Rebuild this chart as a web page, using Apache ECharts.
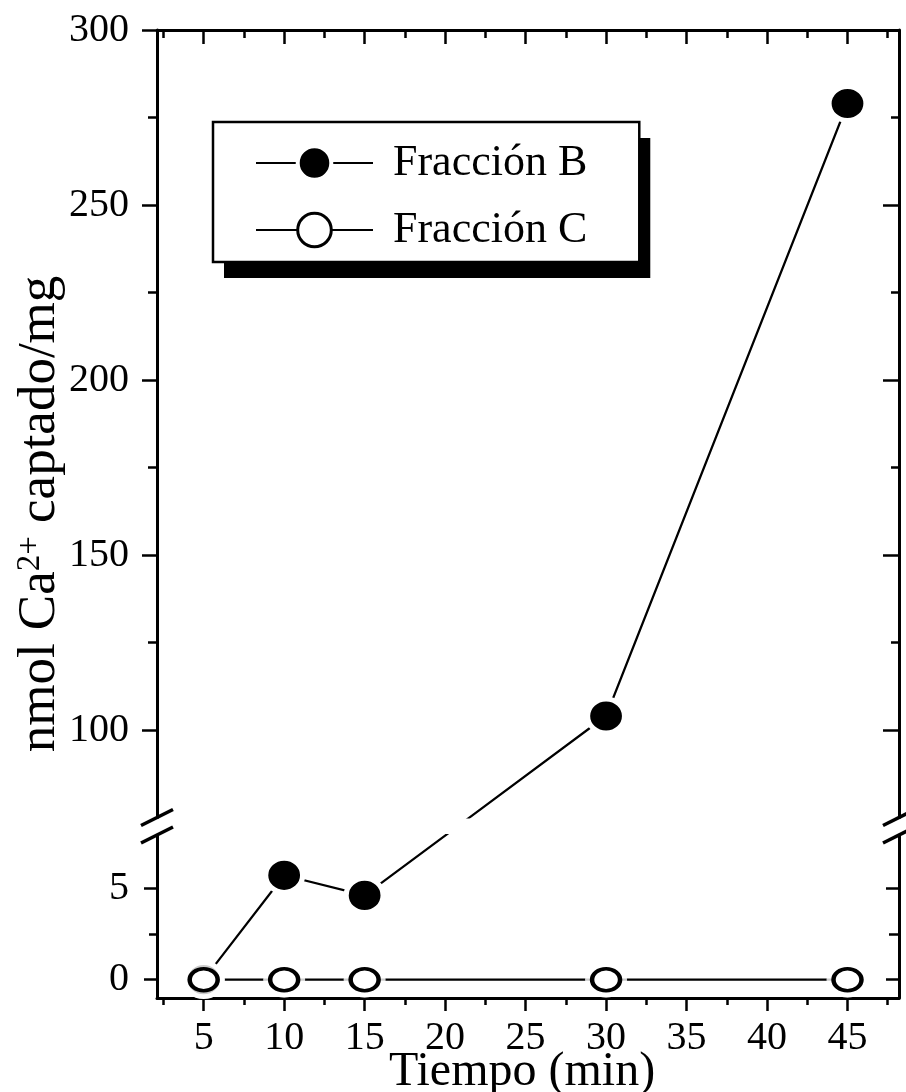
<!DOCTYPE html>
<html>
<head>
<meta charset="utf-8">
<script src="https://cdn.jsdelivr.net/npm/echarts@6/dist/echarts.min.js"></script>
<style>
  html, body { margin: 0; padding: 0; background: #fff; }
  #chart { width: 906px; height: 1092px; }
</style>
</head>
<body>
<div id="chart"></div>
<script>
// Ca2+ uptake over time for two membrane fractions
const tiempo = [5, 10, 15, 30, 45];
const fraccionB = [0, 5.7, 4.6, 104, 279];
const fraccionC = [0, 0, 0, 0, 0];

// tick positions
const xTicksMajor = [5, 10, 15, 20, 25, 30, 35, 40, 45];
const xTicksMinor = [2.5, 7.5, 12.5, 17.5, 22.5, 27.5, 32.5, 37.5, 42.5, 47.5];
const yUpperMajor = [100, 150, 200, 250, 300];
const yUpperMinor = [125, 175, 225, 275];
const yLowerMajor = [0, 5];
const yLowerMinor = [2.5];

// axis ranges (broken y axis)
const X_MIN = 2.1, X_MAX = 48.2;
const UP_MIN = 75, UP_MAX = 300;
const LOW_MIN = -1, LOW_MAX = 7.9;

// layout
const GRID_LEFT = 157, GRID_RIGHT = 7;
const UP_TOP = 30, UP_BOTTOM = 817.5;
const LOW_TOP = 835, LOW_BOTTOM = 998;
const W = 906;

const FONT = "'Liberation Serif', 'Times New Roman', serif";
const INK = '#000';

function xAxis(grid, position, ticks, len, opts) {
  return Object.assign({
    type: 'value', gridIndex: grid, position: position, min: X_MIN, max: X_MAX,
    axisLine: { show: false, onZero: false },
    axisTick: { show: true, inside: position === 'top', length: len, customValues: ticks,
                lineStyle: { color: INK, width: 2.5 } },
    axisLabel: { show: false },
    splitLine: { show: false }
  }, opts || {});
}
function yAxis(grid, position, min, max, ticks, len, opts) {
  return Object.assign({
    type: 'value', gridIndex: grid, position: position, min: min, max: max,
    axisLine: { show: false, onZero: false },
    axisTick: { show: true, inside: position === 'right', length: len, customValues: ticks,
                lineStyle: { color: INK, width: 2.5 } },
    axisLabel: { show: false },
    splitLine: { show: false }
  }, opts || {});
}
const axisLineOn = { show: true, onZero: false, lineStyle: { color: INK, width: 3 } };
const yLabel = (vals) => ({ show: true, customValues: vals, margin: 28, color: INK,
                            fontFamily: FONT, fontSize: 40 });

const pts = (xs, ys, idx) => idx.map(i => [xs[i], ys[i]]);
const allIdx = tiempo.map((_, i) => i);
const lowIdx = allIdx.filter(i => fraccionB[i] <= LOW_MAX);
const upIdx = allIdx.filter(i => fraccionB[i] >= UP_MIN);

const bItem = { color: INK, borderColor: '#fff', borderWidth: 5 };
const bLine = { color: INK, width: 2.2 };

// legend box settings shared by the framed legend and its drop shadow
const legendBase = {
  orient: 'vertical',
  left: 213, top: 122,
  padding: [19, 52, 10, 42],
  itemWidth: 117, itemHeight: 42, itemGap: 23,
  backgroundColor: '#fff',
  selectedMode: false,
  textStyle: { color: INK, fontFamily: FONT, fontSize: 44, lineHeight: 42, padding: [0, 0, 0, 15] },
  data: [
    { name: 'Fracción B', itemStyle: { borderWidth: 4 } },
    { name: 'Fracción C', itemStyle: { borderWidth: 3 } }
  ]
};

const option = {
  animation: false,
  backgroundColor: '#fff',
  grid: [
    { left: GRID_LEFT, right: GRID_RIGHT, top: UP_TOP, height: UP_BOTTOM - UP_TOP,
      outerBoundsMode: 'none', containLabel: false },
    { left: GRID_LEFT, right: GRID_RIGHT, top: LOW_TOP, height: LOW_BOTTOM - LOW_TOP,
      outerBoundsMode: 'none', containLabel: false }
  ],
  xAxis: [
    xAxis(0, 'top', xTicksMajor, 14, { axisLine: axisLineOn }),
    xAxis(0, 'top', xTicksMinor, 8),
    xAxis(1, 'bottom', xTicksMajor, 13, {
      axisLine: axisLineOn,
      axisLabel: { show: true, customValues: xTicksMajor, margin: 20, color: INK,
                   fontFamily: FONT, fontSize: 40 },
      name: 'Tiempo (min)', nameLocation: 'middle', nameGap: 50, nameMoveOverlap: false,
      nameTextStyle: { color: INK, fontFamily: FONT, fontSize: 48, padding: [0, 12, 0, 0] }
    }),
    xAxis(1, 'bottom', xTicksMinor, 7)
  ],
  yAxis: [
    yAxis(0, 'left', UP_MIN, UP_MAX, yUpperMajor, 15, { axisLine: axisLineOn, axisLabel: yLabel(yUpperMajor) }),
    yAxis(0, 'left', UP_MIN, UP_MAX, yUpperMinor, 9),
    yAxis(0, 'right', UP_MIN, UP_MAX, yUpperMajor.filter(v => v < UP_MAX), 16, { axisLine: axisLineOn }),
    yAxis(0, 'right', UP_MIN, UP_MAX, yUpperMinor, 8),
    yAxis(1, 'left', LOW_MIN, LOW_MAX, yLowerMajor, 13, { axisLine: axisLineOn, axisLabel: yLabel(yLowerMajor) }),
    yAxis(1, 'left', LOW_MIN, LOW_MAX, yLowerMinor, 8),
    yAxis(1, 'right', LOW_MIN, LOW_MAX, yLowerMajor, 13, { axisLine: axisLineOn }),
    yAxis(1, 'right', LOW_MIN, LOW_MAX, yLowerMinor, 10)
  ],
  legend: [
    // framed legend
    Object.assign({}, legendBase, { z: 6, borderColor: INK, borderWidth: 2.5 }),
    // solid drop shadow sitting underneath it
    Object.assign({}, legendBase, { z: 5, borderWidth: 0,
      shadowColor: INK, shadowBlur: 0, shadowOffsetX: 11, shadowOffsetY: 16 })
  ],
  series: [
    { id: 'bUp', name: 'Fracción B', type: 'line', xAxisIndex: 0, yAxisIndex: 0,
      data: pts(tiempo, fraccionB, upIdx), symbol: 'circle', symbolSize: [37, 34],
      itemStyle: bItem, lineStyle: bLine, z: 2 },
    { id: 'bLow', name: 'Fracción B', type: 'line', xAxisIndex: 2, yAxisIndex: 4,
      data: pts(tiempo, fraccionB, lowIdx), symbol: 'circle', symbolSize: [37, 34],
      itemStyle: bItem, lineStyle: bLine, z: 2 },
    { id: 'cLine', name: 'Fracción C', type: 'line', xAxisIndex: 2, yAxisIndex: 4,
      data: pts(tiempo, fraccionC, allIdx), symbol: 'circle', showSymbol: false,
      itemStyle: { color: '#fff', borderColor: INK, borderWidth: 3 },
      lineStyle: bLine, z: 2 },
    // white halo keeps lines clear of the open markers
    { id: 'cHalo', type: 'scatter', xAxisIndex: 2, yAxisIndex: 4, silent: true,
      data: pts(tiempo, fraccionC, allIdx), symbol: 'circle', symbolSize: [42, 36],
      itemStyle: { color: '#fff' }, z: 3 },
    { id: 'cMark', type: 'scatter', xAxisIndex: 2, yAxisIndex: 4, silent: true,
      data: pts(tiempo, fraccionC, allIdx), symbol: 'circle', symbolSize: [28, 22],
      itemStyle: { color: '#fff', borderColor: INK, borderWidth: 4, opacity: 1 }, z: 4 }
  ]
};

const chart = echarts.init(document.getElementById('chart'), null, { renderer: 'canvas' });
chart.setOption(option);

// the segment that crosses the axis break: carry each half on to the other half's point
const lastLow = [tiempo[lowIdx[lowIdx.length - 1]], fraccionB[lowIdx[lowIdx.length - 1]]];
const firstUp = [tiempo[upIdx[0]], fraccionB[upIdx[0]]];
const pLow = chart.convertToPixel({ seriesIndex: 1 }, lastLow);
const pUp = chart.convertToPixel({ seriesIndex: 0 }, firstUp);
const lowInUp = chart.convertFromPixel({ seriesIndex: 0 }, pLow);
const upInLow = chart.convertFromPixel({ seriesIndex: 1 }, pUp);

// break marks on both vertical axes
const slash = (x, y) => ({
  type: 'line', silent: true, z: 10,
  shape: { x1: x - 16, y1: y + 8, x2: x + 16, y2: y - 8 },
  style: { stroke: INK, lineWidth: 3.5 }
});
const xRight = W - GRID_RIGHT;

chart.setOption({
  series: [
    { id: 'bUp', data: [{ value: lowInUp, symbol: 'none' }].concat(pts(tiempo, fraccionB, upIdx)) },
    { id: 'bLow', data: pts(tiempo, fraccionB, lowIdx).concat([{ value: upInLow, symbol: 'none' }]) }
  ],
  graphic: [
    slash(GRID_LEFT, UP_BOTTOM), slash(GRID_LEFT, LOW_TOP),
    slash(xRight, UP_BOTTOM), slash(xRight, LOW_TOP),
    {
      type: 'text', silent: true,
      x: 40, y: (UP_TOP + LOW_BOTTOM) / 2, rotation: Math.PI / 2,
      style: {
        text: '{a|nmol Ca}{s|2+}{a| captado/mg}',
        align: 'center', verticalAlign: 'middle',
        fill: INK,
        rich: {
          a: { fontFamily: FONT, fontSize: 53, fill: INK, lineHeight: 53 },
          s: { fontFamily: FONT, fontSize: 33, fill: INK, lineHeight: 40, verticalAlign: 'top' }
        }
      }
    }
  ]
});
</script>
</body>
</html>
